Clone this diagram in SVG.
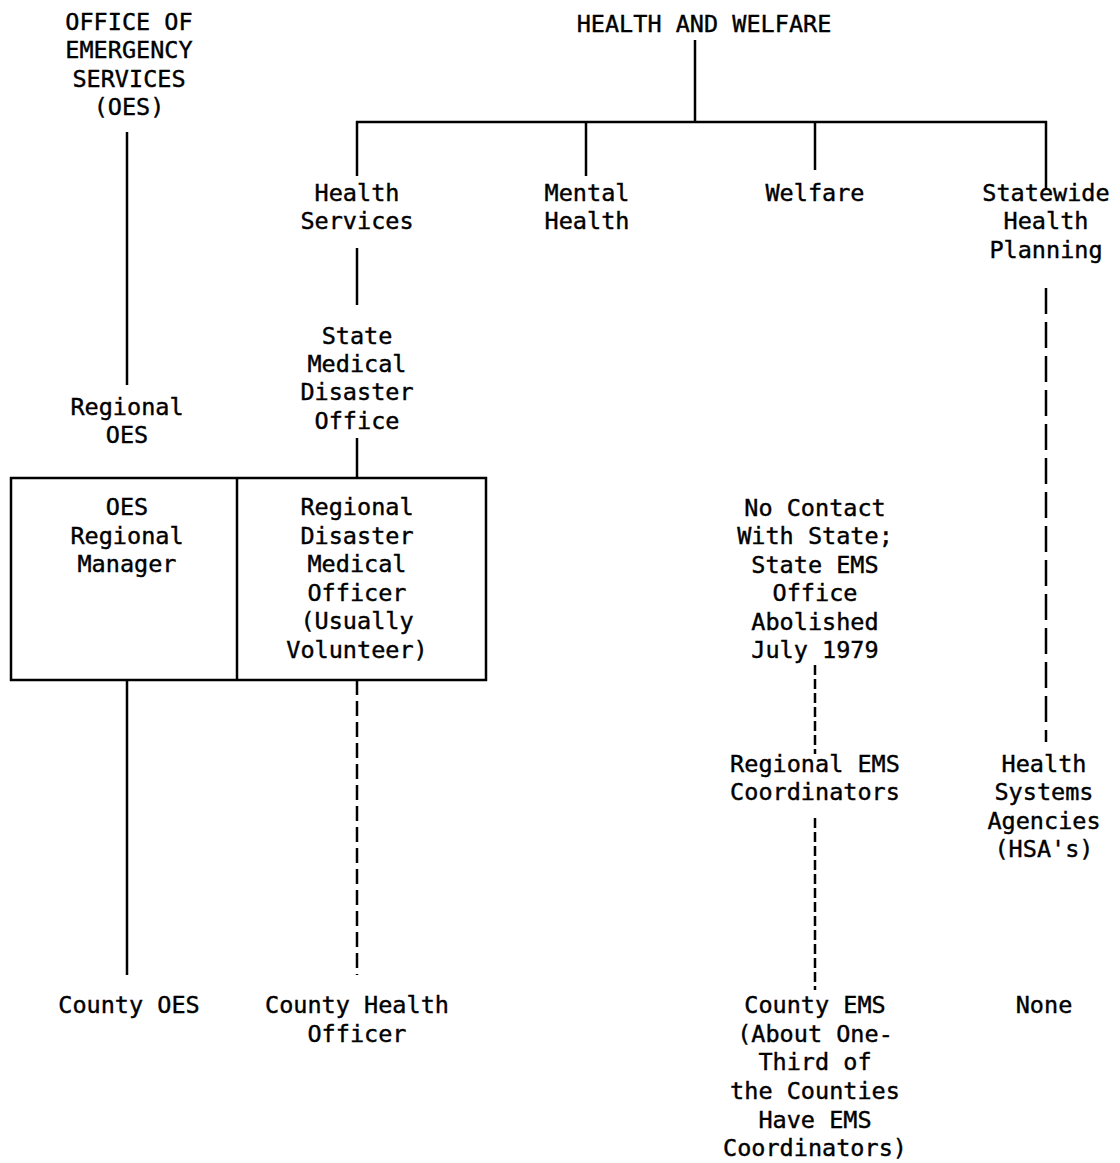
<svg xmlns="http://www.w3.org/2000/svg" width="1120" height="1163" viewBox="0 0 1120 1163">
<style>
text{font-family:"DejaVu Sans Mono","Liberation Mono",monospace;font-size:23.5px;fill:#000;stroke:#000;stroke-width:0.4;text-anchor:middle}
.s{stroke:#000;stroke-width:2.5;fill:none}
.d1{stroke-dasharray:15 6}
.d2{stroke-dasharray:26 8}
.d3{stroke-dasharray:10 4}
</style>
<rect width="1120" height="1163" fill="#fff"/>
<g id="connectors">
<line class="s" x1="695" y1="40" x2="695" y2="122"/>
<line class="s" x1="356" y1="122" x2="1047" y2="122"/>
<line class="s" x1="357" y1="121" x2="357" y2="176"/>
<line class="s" x1="586" y1="122" x2="586" y2="176"/>
<line class="s" x1="815" y1="122" x2="815" y2="170"/>
<line class="s" x1="1046" y1="121" x2="1046" y2="190"/>
<line class="s" x1="127" y1="132" x2="127" y2="385"/>
<line class="s" x1="357" y1="248" x2="357" y2="305"/>
<line class="s" x1="357" y1="438" x2="357" y2="478"/>
<line class="s" x1="127" y1="680" x2="127" y2="975"/>
<line class="s d1" x1="357" y1="680" x2="357" y2="975"/>
<line class="s d3" x1="815" y1="665" x2="815" y2="754"/>
<line class="s d3" x1="815" y1="818" x2="815" y2="990"/>
<line class="s d2" x1="1046" y1="288" x2="1046" y2="742"/>
</g>
<g id="oes"><text x="129" y="30">OFFICE OF</text><text x="129" y="58">EMERGENCY</text><text x="129" y="87">SERVICES</text><text x="129" y="115">(OES)</text></g>
<g id="hw"><text x="704" y="32">HEALTH AND WELFARE</text></g>
<g id="health-services"><text x="357" y="201">Health</text><text x="357" y="229">Services</text></g>
<g id="mental-health"><text x="587" y="201">Mental</text><text x="587" y="229">Health</text></g>
<g id="welfare"><text x="815" y="201">Welfare</text></g>
<g id="statewide"><text x="1046" y="201">Statewide</text><text x="1046" y="229">Health</text><text x="1046" y="258">Planning</text></g>
<g id="regional-oes"><text x="127" y="415">Regional</text><text x="127" y="443">OES</text></g>
<g id="smdo"><text x="357" y="344">State</text><text x="357" y="372">Medical</text><text x="357" y="400">Disaster</text><text x="357" y="429">Office</text></g>
<g id="box">
<rect class="s" x="11" y="478" width="475" height="202"/>
<line class="s" x1="237" y1="478" x2="237" y2="680"/>
</g>
<g id="oes-manager"><text x="127" y="515">OES</text><text x="127" y="544">Regional</text><text x="127" y="572">Manager</text></g>
<g id="rdmo"><text x="357" y="515">Regional</text><text x="357" y="544">Disaster</text><text x="357" y="572">Medical</text><text x="357" y="601">Officer</text><text x="357" y="629">(Usually</text><text x="357" y="658">Volunteer)</text></g>
<g id="no-contact"><text x="815" y="516">No Contact</text><text x="815" y="544">With State;</text><text x="815" y="573">State EMS</text><text x="815" y="601">Office</text><text x="815" y="630">Abolished</text><text x="815" y="658">July 1979</text></g>
<g id="regional-ems"><text x="815" y="772">Regional EMS</text><text x="815" y="800">Coordinators</text></g>
<g id="hsa"><text x="1044" y="772">Health</text><text x="1044" y="800">Systems</text><text x="1044" y="829">Agencies</text><text x="1044" y="857">(HSA's)</text></g>
<g id="county-oes"><text x="129" y="1013">County OES</text></g>
<g id="county-health"><text x="357" y="1013">County Health</text><text x="357" y="1042">Officer</text></g>
<g id="county-ems"><text x="815" y="1013">County EMS</text><text x="815" y="1042">(About One-</text><text x="815" y="1070">Third of</text><text x="815" y="1099">the Counties</text><text x="815" y="1128">Have EMS</text><text x="815" y="1156">Coordinators)</text></g>
<g id="none"><text x="1044" y="1013">None</text></g>
</svg>
